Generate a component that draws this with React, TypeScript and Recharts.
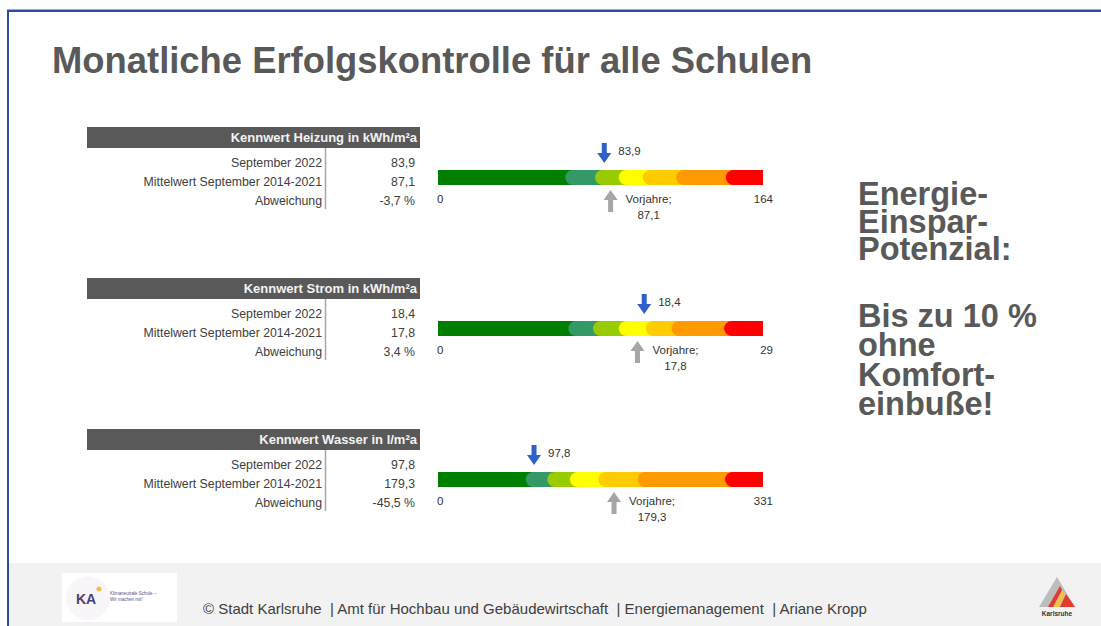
import React from 'react';
import { ComposedChart, Bar, XAxis, YAxis, ReferenceDot } from 'recharts';

const gaugeTitles = ['Kennwert Heizung in kWh/m²a', 'Kennwert Strom in kWh/m²a', 'Kennwert Wasser in l/m²a'];
const rowLabels = ['September 2022', 'Mittelwert September 2014-2021', 'Abweichung'];
const currentValues = [83.9, 18.4, 97.8];
const previousValues = [87.1, 17.8, 179.3];
const deviations = [-3.7, 3.4, -45.5];
const scaleMax = [164, 29, 331];
const heatingBands = [68, 83, 95, 107, 124, 149, 164];
const powerBands = [12.3, 14.5, 16.8, 19.2, 21.5, 26.2, 29];
const waterBands = [97, 119, 142, 171, 211, 300, 331];
const bandColors = ['#008000', '#339966', '#99cc00', '#ffff00', '#ffcc00', '#ff9900', '#ff0000'];
const allBands = [heatingBands, powerBands, waterBands];
const previousLabel = 'Vorjahre;';

const fmt = (v: number) => v.toFixed(1).replace('.', ',');

const FONT = '"Liberation Sans", Arial, sans-serif';
const GAUGE_TOP = [127, 278, 429];
const STEP = 151;

function Segment(props: any) {
  const { x, y, width, height, fill, rounded } = props;
  if (width == null || isNaN(width)) return null;
  const r = height / 2;
  return (
    <g>
      <rect x={x} y={y} width={width} height={height} fill={fill} />
      {rounded && <circle cx={x} cy={y + r} r={r} fill={fill} />}
    </g>
  );
}

function Gauge({ idx }: { idx: number }) {
  const bands = allBands[idx];
  const row: any = { name: 'g' };
  bands.forEach((b, i) => {
    row['s' + i] = b - (i === 0 ? 0 : bands[i - 1]);
  });
  const data = [row];
  const cur = currentValues[idx];
  const prev = previousValues[idx];
  const max = scaleMax[idx];
  const tf = { fontFamily: FONT, fontSize: 11.5, fill: '#333333' };
  return (
    <div style={{ position: 'absolute', left: 420, top: GAUGE_TOP[idx], width: 360, height: 100 }}>
      <ComposedChart width={360} height={100} data={data} layout="vertical" margin={{ top: 0, right: 17, bottom: 0, left: 18 }}>
        <XAxis type="number" domain={[0, max]} hide />
        <YAxis type="category" dataKey="name" hide />
        {bands.map((_, i) => (
          <Bar
            key={i}
            dataKey={'s' + i}
            stackId="a"
            fill={bandColors[i]}
            barSize={15}
            isAnimationActive={false}
            shape={(p: any) => <Segment {...p} rounded={i > 0} />}
          />
        ))}
        <ReferenceDot
          x={cur}
          y="g"
          r={0}
          ifOverflow="visible"
          shape={(p: any) => {
            const { cx, cy } = p;
            return (
              <g>
                <path
                  d={`M${cx - 2.5},${cy - 34} L${cx + 2.5},${cy - 34} L${cx + 2.5},${cy - 24} L${cx + 7},${cy - 24} L${cx},${cy - 14} L${cx - 7},${cy - 24} L${cx - 2.5},${cy - 24} Z`}
                  fill="#2f62c8"
                />
                <text x={cx + 14} y={cy - 22} {...tf}>{fmt(cur)}</text>
              </g>
            );
          }}
        />
        <ReferenceDot
          x={prev}
          y="g"
          r={0}
          ifOverflow="visible"
          shape={(p: any) => {
            const { cx, cy } = p;
            return (
              <g>
                <path
                  d={`M${cx},${cy + 13} L${cx + 7},${cy + 23} L${cx + 2.5},${cy + 23} L${cx + 2.5},${cy + 35} L${cx - 2.5},${cy + 35} L${cx - 2.5},${cy + 23} L${cx - 7},${cy + 23} Z`}
                  fill="#a6a6a6"
                />
                <text x={cx + 38} y={cy + 26} textAnchor="middle" {...tf}>{previousLabel}</text>
                <text x={cx + 38} y={cy + 42} textAnchor="middle" {...tf}>{fmt(prev)}</text>
              </g>
            );
          }}
        />
        <ReferenceDot
          x={0}
          y="g"
          r={0}
          ifOverflow="visible"
          shape={(p: any) => (
            <text x={p.cx - 1} y={p.cy + 26} {...tf}>0</text>
          )}
        />
        <ReferenceDot
          x={max}
          y="g"
          r={0}
          ifOverflow="visible"
          shape={(p: any) => (
            <text x={p.cx + 10} y={p.cy + 26} textAnchor="end" {...tf}>{String(max)}</text>
          )}
        />
      </ComposedChart>
    </div>
  );
}

function Tables() {
  return (
    <g>
      {gaugeTitles.map((t, k) => {
        const top = 127 + k * STEP;
        const vals = [fmt(currentValues[k]), fmt(previousValues[k]), fmt(deviations[k]) + ' %'];
        return (
          <g key={k}>
            <rect x={87} y={top} width={333} height={21} fill="#595959" />
            <text x={417} y={top + 15} textAnchor="end" fontFamily={FONT} fontWeight="bold" fontSize={13} fill="#f2f2f2">{t}</text>
            <line x1={325.5} x2={325.5} y1={top + 21} y2={top + 82} stroke="#a6a6a6" strokeWidth={1.5} />
            {rowLabels.map((r, j) => (
              <g key={j}>
                <text x={322} y={top + 39.5 + j * 19} textAnchor="end" fontFamily={FONT} fontSize={12.3} fill="#404040">{r}</text>
                <text x={415} y={top + 39.5 + j * 19} textAnchor="end" fontFamily={FONT} fontSize={12.3} fill="#404040">{vals[j]}</text>
              </g>
            ))}
          </g>
        );
      })}
    </g>
  );
}

const sideLines1 = ['Energie-', 'Einspar-', 'Potenzial:'];
const sideLines2 = ['Bis zu 10 %', 'ohne', 'Komfort-', 'einbuße!'];

export default function App() {
  return (
    <div style={{ position: 'absolute', left: 0, top: 0, width: 1101, height: 626, overflow: 'hidden', background: '#ffffff' }}>
      <svg width={1101} height={626} style={{ position: 'absolute', left: 0, top: 0 }}>
        <rect x={9} y={563} width={1092} height={63} fill="#f2f2f2" />
        <rect x={7} y={9} width={1094} height={1} fill="#9aa9dc" />
        <rect x={7} y={10} width={1094} height={2} fill="#2c4bab" />
        <rect x={7} y={10} width={2} height={616} fill="#2c4bab" />
        <text x={52} y={73} fontFamily={FONT} fontWeight="bold" fontSize={36.4} fill="#595959">Monatliche Erfolgskontrolle für alle Schulen</text>
        <Tables />
        {sideLines1.map((l, i) => (
          <text key={'a' + i} x={858} y={205 + i * 27.5} fontFamily={FONT} fontWeight="bold" fontSize={32.5} fill="#595959" style={{ whiteSpace: 'pre' }}>{l}</text>
        ))}
        {sideLines2.map((l, i) => (
          <text key={'b' + i} x={858} y={327 + i * 29.3} fontFamily={FONT} fontWeight="bold" fontSize={32.5} fill="#595959" style={{ whiteSpace: 'pre' }}>{l}</text>
        ))}
        {/* KA logo */}
        <rect x={62} y={573} width={115} height={49} fill="#ffffff" />
        <circle cx={88} cy={598} r={22} fill="#f8f6f9" />
        <text x={76} y={604} fontFamily={FONT} fontWeight="bold" fontSize={14} fill="#4b3f7a">KA</text>
        <circle cx={99} cy={589} r={2.5} fill="#f2bf4a" />
        <text x={110} y={595} fontFamily={FONT} fontSize={4.5} fill="#5a4f8a">Klimaneutrale Schule –</text>
        <text x={110} y={601} fontFamily={FONT} fontSize={4.5} fill="#5a4f8a">Wir machen mit!</text>
        <text x={203} y={614} fontFamily={FONT} fontSize={15} fill="#404040" style={{ whiteSpace: 'pre' }}>© Stadt Karlsruhe  | Amt für Hochbau und Gebäudewirtschaft  | Energiemanagement  | Ariane Kropp</text>
        {/* Karlsruhe logo */}
        <polygon points="1039,607 1057,577 1075,607" fill="#bdbdbd" />
        <polygon points="1060,607 1066,594 1075,607" fill="#e23b2e" />
        <polygon points="1054,607 1063,590 1065,594 1059,607" fill="#f3c13a" />
        <polygon points="1048,607 1060,586 1062,590 1053,607" fill="#e23b2e" />
        <text x={1057} y={616} textAnchor="middle" fontFamily={FONT} fontWeight="bold" fontSize={6.5} fill="#333333">Karlsruhe</text>
      </svg>
      {[0, 1, 2].map((i) => (
        <Gauge key={i} idx={i} />
      ))}
    </div>
  );
}
